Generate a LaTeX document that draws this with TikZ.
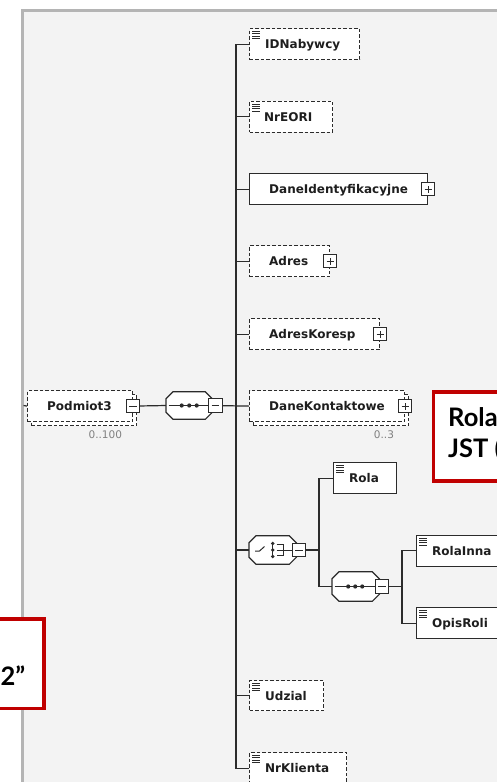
\documentclass[tikz,border=0pt]{standalone}
\usepackage{fontspec}
\setmainfont{DejaVu Sans}
\newfontfamily\annotfont{Lato}
\usetikzlibrary{calc}
\definecolor{panelbg}{HTML}{F3F3F3}
\definecolor{panelborder}{HTML}{B4B4B4}
\definecolor{ink}{HTML}{2B2B2B}
\definecolor{txt}{HTML}{1E1E1E}
\definecolor{multc}{HTML}{808080}
\definecolor{annred}{HTML}{C00000}
\newcommand\leaficon[1]{%
  \foreach \k in {0,1,2,3}{\draw[iconline] ([xshift=3pt,yshift={-(3.5pt+2.3pt*\k)}]#1.north west) -- ++(8,0);}}
\newcommand\plusmark[1]{%
  \draw[ink, line width=1pt] ([xshift=-3.6pt]#1.center) -- ([xshift=3.6pt]#1.center)
        ([yshift=-3.6pt]#1.center) -- ([yshift=3.6pt]#1.center);}
\newcommand\minusmark[1]{%
  \draw[ink, line width=1pt] ([xshift=-3.8pt]#1.center) -- ([xshift=3.8pt]#1.center);}
\newcommand\octagon[1]{%
  \draw[octo] ([xshift=7pt]#1.north west) -- ([xshift=-7pt]#1.north east) -- ([yshift=-7pt]#1.north east)
    -- ([yshift=7pt]#1.south east) -- ([xshift=-7pt]#1.south east) -- ([xshift=7pt]#1.south west)
    -- ([yshift=7pt]#1.south west) -- ([yshift=-7pt]#1.north west) -- cycle;}
\begin{document}
\begin{tikzpicture}[x=1pt,y=-1pt,
  conn/.style={draw=ink, line width=1.2pt},
  reqbox/.style={draw=ink, fill=white, line width=1.2pt, inner sep=0pt, anchor=north west, minimum height=31pt},
  optbox/.style={reqbox, dash pattern=on 3.5pt off 2pt},
  pmbox/.style={draw=ink, fill=white, line width=1pt, minimum width=13.5pt, minimum height=13.5pt, inner sep=0pt},
  eltext/.style={anchor=base west, inner sep=0pt, text=txt, font=\bfseries\fontsize{12}{14}\selectfont},
  multtext/.style={anchor=base east, inner sep=0pt, text=multc, font=\fontsize{10.5}{12}\selectfont},
  compbox/.style={inner sep=0pt, anchor=west, minimum width=46pt, minimum height=27pt},
  octo/.style={draw=ink, fill=white, line width=1.2pt},
  iconline/.style={draw=ink, line width=0.8pt},
  annbox/.style={draw=annred, fill=white, line width=3.5pt, inner sep=0pt, anchor=north west},
  anntext/.style={anchor=base west, inner sep=0pt, text=black, font=\annotfont\bfseries\fontsize{25.5}{30}\selectfont}
]
\useasboundingbox (0,0) rectangle (497,782);
\clip (0,0) rectangle (497,782);
\fill[white] (0,0) rectangle (497,782);
% panel
\fill[panelbg] (22.5,10.5) rectangle (520,800);
\draw[panelborder, line width=2.5pt] (22.5,800) -- (22.5,10.5) -- (520,10.5);

% ---- element boxes ----
\node[optbox, minimum width=110pt] (idn) at (249,28) {};
\node[optbox, minimum width=83pt] (eori) at (249,100.5) {};
\node[reqbox, minimum width=178pt] (daneid) at (249,173) {};
\node[optbox, minimum width=80pt] (adres) at (249,245) {};
\node[optbox, minimum width=130pt] (adreskor) at (249,318) {};
\node[optbox, minimum width=155pt] (danekontsh) at (253,394) {};
\node[optbox, minimum width=155pt] (danekont) at (249,390) {};
\node[reqbox, minimum width=63pt] (rola) at (333,462) {};
\node[reqbox, minimum width=110pt] (rolainna) at (416,534.5) {};
\node[reqbox, minimum width=110pt] (opisroli) at (416,607) {};
\node[optbox, minimum width=74pt, minimum height=30pt] (udzial) at (249,680) {};
\node[optbox, minimum width=97pt] (nrkl) at (249,752) {};
\node[optbox, minimum width=105pt] (podsh) at (31,394) {};
\node[optbox, minimum width=105pt] (pod) at (27,390) {};

% ---- compositors ----
\node[compbox] (seq1) at (166,405.5) {};
\node[compbox, minimum width=47pt, minimum height=28pt] (cho) at (249,550) {};
\node[compbox, minimum width=47pt, minimum height=29pt] (seq2) at (332,586.5) {};

% ---- connectors ----
\coordinate (stub) at (23.5,405.5);
\draw[conn] (stub) -- (pod.west);
\draw[conn] (pod.east) -- (seq1.west);
\draw[conn] (idn.west) -- ++(-13,0) |- (nrkl.west);
\foreach \n in {eori,daneid,adres,adreskor,udzial,cho}{\draw[conn] (\n.west) -- ++(-13,0);}
\draw[conn] (seq1.east) -- (danekont.west);
\coordinate (st1) at ($(rola.west)+(-14,0)$);
\coordinate (st2) at ($(rolainna.west)+(-14,0)$);
\draw[conn] (rola.west) -- (st1) |- (seq2.west);
\draw[conn] (cho.east) -- (cho.east -| st1);
\draw[conn] (rolainna.west) -- (st2) |- (opisroli.west);
\draw[conn] (seq2.east) -- (seq2.east -| st2);

% octagons
\octagon{seq1}
\octagon{cho}
\octagon{seq2}
% sequence symbols
\draw[conn] ([xshift=2.5pt]seq1.west) -- (seq1.east);
\foreach \dx in {-7.5,0,7.5}{\fill[ink] ([xshift=\dx pt]seq1.center) circle (2.1pt);}
\draw[conn] ([xshift=2.5pt]seq2.west) -- (seq2.east);
\foreach \dx in {-7,0,7}{\fill[ink] ([xshift=\dx pt, xshift=-0.5pt]seq2.center) circle (2.1pt);}
% choice symbol
\draw[ink, line width=1pt] (255,551) -- (259.5,551) -- (264.5,546.5);
\draw[ink, line width=1pt] (272.8,543.5) -- (272.8,556.5);
\foreach \yy in {543.5,550,556.5}{\fill[ink] (272.8,\yy) circle (1.9pt);}
\draw[ink, line width=1pt] (276.5,544.5) -- (283,544.5) -- (283,555.5) -- (276.5,555.5);
\draw[ink, line width=1pt] (276.5,550) -- (cho.east);

% plus / minus boxes
\node[pmbox] (podm) at (pod.east) {}; \minusmark{podm}
\node[pmbox] (seq1m) at ([xshift=3pt]seq1.east) {}; \minusmark{seq1m}
\node[pmbox] (chom) at ([xshift=2.5pt]cho.east) {}; \minusmark{chom}
\node[pmbox] (seq2m) at ([xshift=2.5pt]seq2.east) {}; \minusmark{seq2m}
\node[pmbox] (daneidp) at (daneid.east) {}; \plusmark{daneidp}
\node[pmbox] (adresp) at (adres.east) {}; \plusmark{adresp}
\node[pmbox] (adreskorp) at (adreskor.east) {}; \plusmark{adreskorp}
\node[pmbox] (danekontp) at (danekont.east) {}; \plusmark{danekontp}

% leaf icons
\leaficon{idn}
\leaficon{eori}
\leaficon{rola}
\leaficon{rolainna}
\leaficon{opisroli}
\leaficon{udzial}
\leaficon{nrkl}

% texts
\node[eltext] (idnt) at ([xshift=16pt,yshift=-4.4pt]idn.west) {IDNabywcy};
\node[eltext] (eorit) at ([xshift=15pt,yshift=-4.4pt]eori.west) {NrEORI};
\node[eltext] (daneidt) at ([xshift=20pt,yshift=-4.4pt]daneid.west) {DaneIdentyfikacyjne};
\node[eltext] (adrest) at ([xshift=20pt,yshift=-4.4pt]adres.west) {Adres};
\node[eltext] (adreskort) at ([xshift=20pt,yshift=-4.4pt]adreskor.west) {AdresKoresp};
\node[eltext] (danekontt) at ([xshift=20pt,yshift=-4.4pt]danekont.west) {DaneKontaktowe};
\node[eltext] (podt) at ([xshift=20pt,yshift=-4.4pt]pod.west) {Podmiot3};
\node[eltext] (rolat) at ([xshift=16pt,yshift=-4.4pt]rola.west) {Rola};
\node[eltext] (rolainnat) at ([xshift=16pt,yshift=-4.4pt]rolainna.west) {RolaInna};
\node[eltext] (opisrolit) at ([xshift=16pt,yshift=-4.4pt]opisroli.west) {OpisRoli};
\node[eltext] (udzialt) at ([xshift=16pt,yshift=-4.4pt]udzial.west) {Udzial};
\node[eltext] (nrklt) at ([xshift=16pt,yshift=-4.4pt]nrkl.west) {NrKlienta};
\node[multtext] (podmult) at ([xshift=-15pt,yshift=-12.5pt]podsh.south east) {0..100};
\node[multtext] (danekontmult) at ([xshift=-15pt,yshift=-12.5pt]danekontsh.south east) {0..3};

% annotations
\node[annbox, minimum width=90pt, minimum height=89pt] (ann1) at (431.5,390) {};
\node[anntext] (ann1a) at (448,426) {Rola};
\node[anntext] (ann1b) at (448,457) {JST (};
\node[annbox, minimum width=62pt, minimum height=89.5pt] (ann2) at (-20,617) {};
\node[anntext, anchor=base east] (ann2a) at (25.5,685) {2”};
\end{tikzpicture}
\end{document}
